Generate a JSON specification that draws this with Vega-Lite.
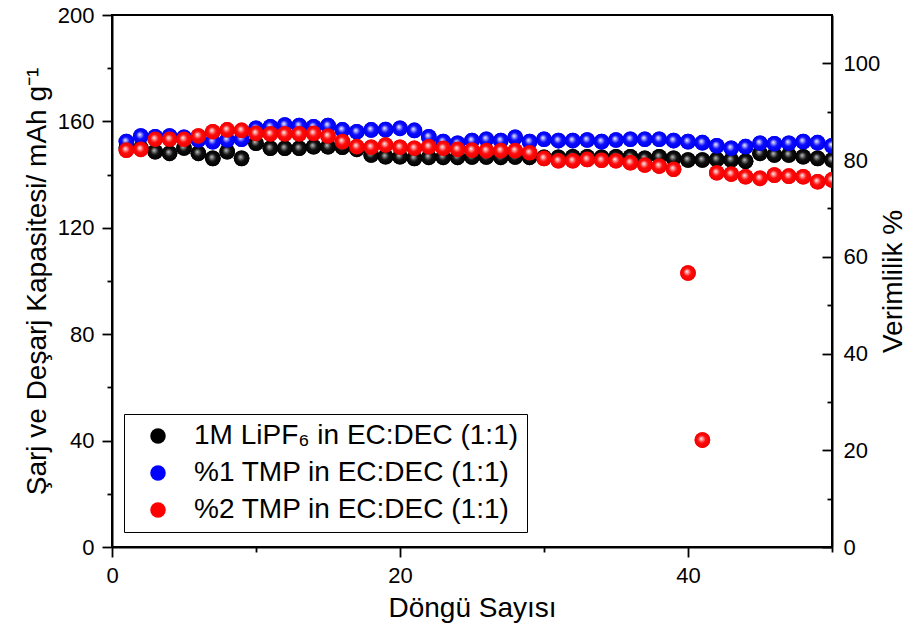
{
  "$schema": "https://vega.github.io/schema/vega-lite/v6.json",
  "width": 720,
  "height": 532,
  "autosize": {"type": "none"},
  "padding": {"left": 112, "top": 15, "right": 89, "bottom": 92},
  "background": "white",
  "config": {
    "font": "Liberation Sans",
    "view": {"stroke": "black", "strokeWidth": 2},
    "axis": {
      "grid": false,
      "domainColor": "black",
      "domainWidth": 2,
      "tickColor": "black",
      "tickWidth": 1.8,
      "labelFont": "Liberation Sans",
      "labelFontSize": 22,
      "labelColor": "black",
      "labelPadding": 8,
      "labelFlush": false,
      "labelOverlap": false,
      "labelBound": false,
      "titleFont": "Liberation Sans",
      "titleFontSize": 28,
      "titleFontWeight": "normal",
      "titleColor": "black"
    }
  },
  "data": {
    "values": [
      {"c":1,"s":"A","v":150},{"c":2,"s":"A","v":150},{"c":3,"s":"A","v":148.6},{"c":4,"s":"A","v":148},{"c":5,"s":"A","v":150},
      {"c":6,"s":"A","v":148},{"c":7,"s":"A","v":146.1},{"c":8,"s":"A","v":148.6},{"c":9,"s":"A","v":146.1},{"c":10,"s":"A","v":151.8},
      {"c":11,"s":"A","v":149.9},{"c":12,"s":"A","v":149.9},{"c":13,"s":"A","v":149.9},{"c":14,"s":"A","v":150.5},{"c":15,"s":"A","v":150.5},
      {"c":16,"s":"A","v":150.3},{"c":17,"s":"A","v":149.5},{"c":18,"s":"A","v":147.4},{"c":19,"s":"A","v":146.7},{"c":20,"s":"A","v":146.7},
      {"c":21,"s":"A","v":146.1},{"c":22,"s":"A","v":146.5},{"c":23,"s":"A","v":146.5},{"c":24,"s":"A","v":146.5},{"c":25,"s":"A","v":146.6},
      {"c":26,"s":"A","v":146.6},{"c":27,"s":"A","v":146.5},{"c":28,"s":"A","v":146.6},{"c":29,"s":"A","v":146.5},{"c":30,"s":"A","v":146.5},
      {"c":31,"s":"A","v":146.5},{"c":32,"s":"A","v":146.7},{"c":33,"s":"A","v":146.7},{"c":34,"s":"A","v":146.5},{"c":35,"s":"A","v":146.7},
      {"c":36,"s":"A","v":146.7},{"c":37,"s":"A","v":146.1},{"c":38,"s":"A","v":146.7},{"c":39,"s":"A","v":146.1},{"c":40,"s":"A","v":145.5},
      {"c":41,"s":"A","v":145.5},{"c":42,"s":"A","v":145.7},{"c":43,"s":"A","v":145.5},{"c":44,"s":"A","v":145},{"c":45,"s":"A","v":148},
      {"c":46,"s":"A","v":147.4},{"c":47,"s":"A","v":147.4},{"c":48,"s":"A","v":146.7},{"c":49,"s":"A","v":146.1},{"c":50,"s":"A","v":145.5},
      {"c":1,"s":"B","v":152.4},{"c":2,"s":"B","v":154.5},{"c":3,"s":"B","v":154.2},{"c":4,"s":"B","v":154.5},{"c":5,"s":"B","v":154},
      {"c":6,"s":"B","v":153},{"c":7,"s":"B","v":152.4},{"c":8,"s":"B","v":153},{"c":9,"s":"B","v":153.3},{"c":10,"s":"B","v":157.4},
      {"c":11,"s":"B","v":158},{"c":12,"s":"B","v":158.6},{"c":13,"s":"B","v":158.4},{"c":14,"s":"B","v":158},{"c":15,"s":"B","v":158.4},
      {"c":16,"s":"B","v":156.8},{"c":17,"s":"B","v":156.1},{"c":18,"s":"B","v":156.8},{"c":19,"s":"B","v":156.9},{"c":20,"s":"B","v":157.4},
      {"c":21,"s":"B","v":156.6},{"c":22,"s":"B","v":154.2},{"c":23,"s":"B","v":152.4},{"c":24,"s":"B","v":151.8},{"c":25,"s":"B","v":152.8},
      {"c":26,"s":"B","v":153.3},{"c":27,"s":"B","v":152.8},{"c":28,"s":"B","v":154},{"c":29,"s":"B","v":152.4},{"c":30,"s":"B","v":153.3},
      {"c":31,"s":"B","v":152.8},{"c":32,"s":"B","v":152.8},{"c":33,"s":"B","v":153},{"c":34,"s":"B","v":152.4},{"c":35,"s":"B","v":153},
      {"c":36,"s":"B","v":153.3},{"c":37,"s":"B","v":153.3},{"c":38,"s":"B","v":153.3},{"c":39,"s":"B","v":152.8},{"c":40,"s":"B","v":152.4},
      {"c":41,"s":"B","v":152},{"c":42,"s":"B","v":150.8},{"c":43,"s":"B","v":149.9},{"c":44,"s":"B","v":150.5},{"c":45,"s":"B","v":151.8},
      {"c":46,"s":"B","v":151.6},{"c":47,"s":"B","v":151.8},{"c":48,"s":"B","v":152.4},{"c":49,"s":"B","v":152},{"c":50,"s":"B","v":150.8},
      {"c":1,"s":"C","v":149.2},{"c":2,"s":"C","v":149.5},{"c":3,"s":"C","v":153.3},{"c":4,"s":"C","v":153.3},{"c":5,"s":"C","v":153.3},
      {"c":6,"s":"C","v":154.5},{"c":7,"s":"C","v":156.1},{"c":8,"s":"C","v":156.8},{"c":9,"s":"C","v":156.6},{"c":10,"s":"C","v":155.5},
      {"c":11,"s":"C","v":155.3},{"c":12,"s":"C","v":155.3},{"c":13,"s":"C","v":155.3},{"c":14,"s":"C","v":155.5},{"c":15,"s":"C","v":154.5},
      {"c":16,"s":"C","v":152.4},{"c":17,"s":"C","v":150.5},{"c":18,"s":"C","v":150.3},{"c":19,"s":"C","v":151.1},{"c":20,"s":"C","v":150.3},
      {"c":21,"s":"C","v":149.9},{"c":22,"s":"C","v":150.5},{"c":23,"s":"C","v":149.9},{"c":24,"s":"C","v":149.5},{"c":25,"s":"C","v":149.2},
      {"c":26,"s":"C","v":149},{"c":27,"s":"C","v":149},{"c":28,"s":"C","v":149},{"c":29,"s":"C","v":148.2},{"c":30,"s":"C","v":146.1},
      {"c":31,"s":"C","v":145.2},{"c":32,"s":"C","v":145.2},{"c":33,"s":"C","v":145.7},{"c":34,"s":"C","v":145.4},{"c":35,"s":"C","v":145.2},
      {"c":36,"s":"C","v":144.5},{"c":37,"s":"C","v":143.6},{"c":38,"s":"C","v":143.2},{"c":39,"s":"C","v":142},{"c":40,"s":"C","v":103},
      {"c":41,"s":"C","v":40.2},{"c":42,"s":"C","v":140.7},{"c":43,"s":"C","v":140.2},{"c":44,"s":"C","v":139.2},{"c":45,"s":"C","v":138.6},
      {"c":46,"s":"C","v":139.8},{"c":47,"s":"C","v":139.4},{"c":48,"s":"C","v":139.2},{"c":49,"s":"C","v":137.3},{"c":50,"s":"C","v":138}
    ]
  },
  "encoding": {
    "x": {
      "field": "c",
      "type": "quantitative",
      "scale": {"domain": [0, 50], "nice": false, "zero": false},
      "axis": {
        "values": [0, 10, 20, 30, 40, 50],
        "labelExpr": "datum.value % 20 === 0 ? datum.label : ''",
        "tickSize": {"condition": {"test": "datum.value % 20 === 0", "value": 10}, "value": 5},
        "title": "Döngü Sayısı",
        "titlePadding": 8
      }
    }
  },
  "layer": [
    {
      "encoding": {
        "y": {
          "field": "v",
          "type": "quantitative",
          "scale": {"domain": [0, 200], "nice": false},
          "axis": {
            "values": [0, 20, 40, 60, 80, 100, 120, 140, 160, 180, 200],
            "labelExpr": "datum.value % 40 === 0 ? datum.label : ''",
            "tickSize": {"condition": {"test": "datum.value % 40 === 0", "value": 10}, "value": 5},
            "title": "Şarj ve Deşarj Kapasitesi/ mAh g⁻¹",
            "titlePadding": 6
          }
        }
      },
      "layer": [
        {
          "mark": {"type": "point", "filled": true, "size": 245, "opacity": 1, "strokeWidth": 0, "clip": true},
          "encoding": {
            "color": {
              "field": "s",
              "type": "nominal",
              "scale": {"domain": ["A", "B", "C"], "range": ["#000000", "#0000ff", "#ff0000"]},
              "legend": {
                "title": null,
                "orient": "none",
                "legendX": 12,
                "legendY": 399,
                "direction": "vertical",
                "strokeColor": "black",
                "fillColor": "white",
                "padding": 8,
                "symbolOffset": 12,
                "labelOffset": 22,
                "labelFont": "Liberation Sans",
                "labelFontSize": 28,
                "labelColor": "black",
                "labelLimit": 1000,
                "symbolType": "circle",
                "symbolSize": 240,
                "symbolStrokeWidth": 0,
                "rowPadding": 9,
                "labelExpr": "datum.label === 'A' ? '1M LiPF₆ in EC:DEC (1:1)' : datum.label === 'B' ? '%1 TMP in EC:DEC (1:1)' : '%2 TMP in EC:DEC (1:1)'"
              }
            }
          }
        },
        {
          "transform": [{"filter": "datum.s === 'A'"}],
          "mark": {
            "type": "point", "filled": true, "size": 245, "opacity": 1, "strokeWidth": 0, "clip": true,
            "fill": {"gradient": "radial", "x1": 0.42, "y1": 0.4, "r1": 0, "x2": 0.5, "y2": 0.5, "r2": 0.5,
              "stops": [{"offset": 0, "color": "#c8c8c8"}, {"offset": 0.2, "color": "#7a7a7a"}, {"offset": 0.5, "color": "#101010"}, {"offset": 1, "color": "#000000"}]}
          }
        },
        {
          "transform": [{"filter": "datum.s === 'B'"}],
          "mark": {
            "type": "point", "filled": true, "size": 245, "opacity": 1, "strokeWidth": 0, "clip": true,
            "fill": {"gradient": "radial", "x1": 0.42, "y1": 0.4, "r1": 0, "x2": 0.5, "y2": 0.5, "r2": 0.5,
              "stops": [{"offset": 0, "color": "#f4f4ff"}, {"offset": 0.2, "color": "#9a9aff"}, {"offset": 0.5, "color": "#0c0cff"}, {"offset": 1, "color": "#0000f0"}]}
          }
        },
        {
          "transform": [{"filter": "datum.s === 'C'"}],
          "mark": {
            "type": "point", "filled": true, "size": 245, "opacity": 1, "strokeWidth": 0, "clip": true,
            "fill": {"gradient": "radial", "x1": 0.42, "y1": 0.4, "r1": 0, "x2": 0.5, "y2": 0.5, "r2": 0.5,
              "stops": [{"offset": 0, "color": "#fff4f4"}, {"offset": 0.2, "color": "#ff9a9a"}, {"offset": 0.5, "color": "#ff0c0c"}, {"offset": 1, "color": "#f00000"}]}
          }
        }
      ]
    },
    {
      "mark": {"type": "point", "opacity": 0, "clip": true},
      "encoding": {
        "y": {
          "field": "v",
          "type": "quantitative",
          "scale": {"domain": [0, 110], "nice": false},
          "axis": {
            "orient": "right",
            "values": [0, 10, 20, 30, 40, 50, 60, 70, 80, 90, 100],
            "labelExpr": "datum.value % 20 === 0 ? datum.label : ''",
            "tickSize": {"condition": {"test": "datum.value % 20 === 0", "value": -10}, "value": -5},
            "labelPadding": 21,
            "title": "Verimlilik %",
            "titleAngle": 270,
            "titleBaseline": "top",
            "titlePadding": 0
          }
        }
      }
    }
  ],
  "resolve": {"scale": {"y": "independent"}}
}
